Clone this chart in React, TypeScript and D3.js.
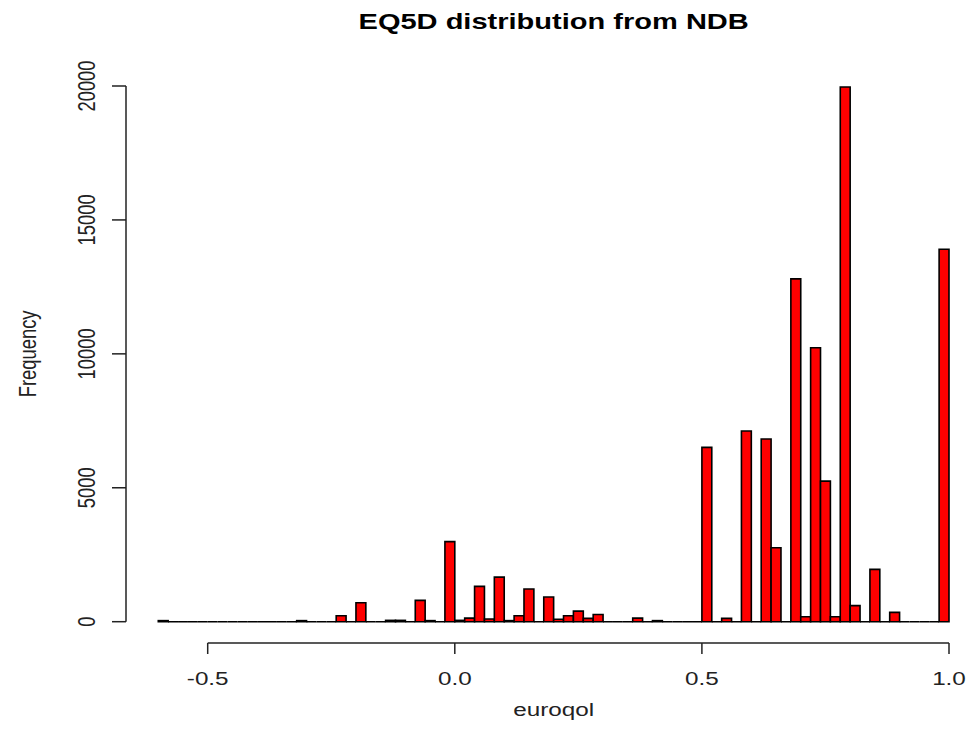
import React from "react";
import * as d3 from "d3";

// Histogram breaks: -0.6 to 1.0 in steps of 0.02 (80 bins)
const breakStart = -0.6;
const breakStep = 0.02;
const counts: number[] = [
  40, 0, 0, 0, 0, 0, 0, 0, 0, 0, // -0.60 .. -0.42
  0, 0, 0, 0, 40, 0, 0, 0, 220, 0, // -0.40 .. -0.22
  705, 0, 0, 50, 50, 0, 795, 40, 0, 2990, // -0.20 .. -0.02
  50, 135, 1320, 100, 1665, 40, 220, 1220, 0, 920, // 0.00 .. 0.18
  90, 220, 395, 125, 270, 0, 0, 0, 135, 0, // 0.20 .. 0.38
  40, 0, 0, 0, 0, 6510, 0, 125, 0, 7120, // 0.40 .. 0.58
  0, 6820, 2760, 0, 12800, 185, 10230, 5250, 185, 19960, // 0.60 .. 0.78
  600, 0, 1955, 0, 350, 0, 0, 0, 0, 13905, // 0.80 .. 0.98
];
const xTicks: number[] = [-0.5, 0.0, 0.5, 1.0];
const xTickLabels: string[] = ["-0.5", "0.0", "0.5", "1.0"];
const yTicks: number[] = [0, 5000, 10000, 15000, 20000];
const titleText = "EQ5D distribution from NDB";
const xLabel = "euroqol";
const yLabel = "Frequency";

const W = 972;
const H = 735;
const FONT = "'Liberation Sans', Arial, Helvetica, sans-serif";

export default function App() {
  const x = d3.scaleLinear().domain([-0.5, 1.0]).range([207.7, 949]);
  const y = d3.scaleLinear().domain([0, 20000]).range([621.7, 86]);
  const xAxisY = 643;
  const yAxisX = 126;
  const hStretch = 1.32;

  const bins = counts.map((c, i) => ({
    x0: breakStart + i * breakStep,
    x1: breakStart + (i + 1) * breakStep,
    c,
  }));

  const barPath = (b: { x0: number; x1: number; c: number }) => {
    const p = d3.path();
    p.moveTo(x(b.x0), y(0));
    p.lineTo(x(b.x1), y(0));
    p.lineTo(x(b.x1), y(b.c));
    p.lineTo(x(b.x0), y(b.c));
    p.closePath();
    return p.toString();
  };

  const plotCenterX = (x(-0.664) + x(1.064)) / 2;
  const plotCenterY = (y(-800) + y(20800)) / 2;

  return (
    <svg
      width={W}
      height={H}
      style={{ position: "absolute", left: 0, top: 0, background: "#fff" }}
    >
      <rect x={0} y={0} width={W} height={H} fill="#fff" />
      {/* bars */}
      <g>
        {bins.map((b, i) => (
          <path
            key={i}
            d={barPath(b)}
            fill="#ff0000"
            stroke="#000"
            strokeWidth={1.6}
          />
        ))}
      </g>
      {/* x axis */}
      <g stroke="#222" strokeWidth={1.5} fill="none">
        <line x1={x(xTicks[0])} x2={x(xTicks[xTicks.length - 1])} y1={xAxisY} y2={xAxisY} />
        {xTicks.map((t) => (
          <line key={t} x1={x(t)} x2={x(t)} y1={xAxisY} y2={xAxisY + 11} />
        ))}
      </g>
      {xTicks.map((t, i) => (
        <text
          key={t}
          transform={`translate(${x(t)},685) scale(${hStretch},1)`}
          textAnchor="middle"
          fontFamily={FONT}
          fontSize={18.4}
          fill="#222"
        >
          {xTickLabels[i]}
        </text>
      ))}
      {/* y axis */}
      <g stroke="#222" strokeWidth={1.5} fill="none">
        <line x1={yAxisX} x2={yAxisX} y1={y(yTicks[0])} y2={y(yTicks[yTicks.length - 1])} />
        {yTicks.map((t) => (
          <line key={t} x1={yAxisX - 14} x2={yAxisX} y1={y(t)} y2={y(t)} />
        ))}
      </g>
      {yTicks.map((t) => (
        <text
          key={t}
          transform={`translate(95,${y(t)}) rotate(-90) scale(0.756,1)`}
          textAnchor="middle"
          fontFamily={FONT}
          fontSize={24.3}
          fill="#222"
        >
          {String(t)}
        </text>
      ))}
      {/* axis titles */}
      <text
        transform={`translate(${plotCenterX},716) scale(${hStretch},1)`}
        textAnchor="middle"
        fontFamily={FONT}
        fontSize={18.4}
        fill="#222"
      >
        {xLabel}
      </text>
      <text
        transform={`translate(36,${plotCenterY}) rotate(-90) scale(0.756,1)`}
        textAnchor="middle"
        fontFamily={FONT}
        fontSize={24.3}
        fill="#222"
      >
        {yLabel}
      </text>
      {/* title */}
      <text
        transform={`translate(${plotCenterX},29) scale(${hStretch},1)`}
        textAnchor="middle"
        fontFamily={FONT}
        fontSize={22}
        fontWeight="bold"
        fill="#000"
      >
        {titleText}
      </text>
    </svg>
  );
}
